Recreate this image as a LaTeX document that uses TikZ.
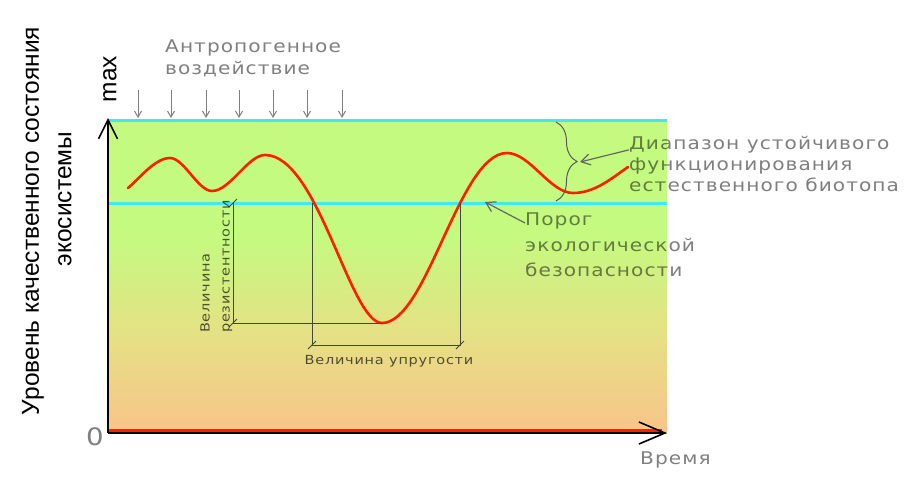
\documentclass[tikz,border=0pt]{standalone}
\usepackage{fontspec}
\setmainfont{Liberation Sans}
\newfontfamily\cad{DejaVu Sans}[FakeStretch=1.15,LetterSpace=6]
\usetikzlibrary{arrows.meta,decorations.pathreplacing}
\definecolor{bggreen}{RGB}{196,250,128}
\definecolor{bgmid}{RGB}{228,226,132}
\definecolor{bgpeach}{RGB}{248,196,138}
\definecolor{cyanline}{RGB}{64,232,240}
\definecolor{redcurve}{RGB}{255,30,0}
\definecolor{arrowgray}{RGB}{128,128,128}
\definecolor{dimgray}{RGB}{70,70,60}
\tikzset{
  cadtext/.style={font=\cad\fontsize{17.5}{20}\selectfont, text=black, text opacity=0.5,
    inner sep=0pt, text height=1ex, text depth=0pt},
  smallcad/.style={font=\cad\fontsize{12.6}{14}\selectfont, text=black, text opacity=0.65,
    inner sep=0pt, text height=1ex, text depth=0pt},
  axlabel/.style={font=\fontsize{24.5}{28}\selectfont, text=black, inner sep=0pt, rotate=90},
  axis/.style={line width=1.6pt, draw=black},
  level/.style={line width=3pt, draw=cyanline},
  impact/.style={draw=arrowgray, line width=1pt, -{Straight Barb[length=6pt,width=7pt]}},
  pointer/.style={draw=black!60, line width=1.2pt, -{Straight Barb[length=9pt,width=11pt]}},
  dimline/.style={draw=dimgray, line width=0.9pt},
  curve/.style={draw=redcurve, line width=2.6pt, line cap=round},
}
\begin{document}
\begin{tikzpicture}[x=1pt,y=-1pt]
\useasboundingbox (0,0) rectangle (921,483);
% background
\fill[bggreen] (108,120) rectangle (667,235);
\shade[top color=bggreen,bottom color=bgmid] (108,234.5) rectangle (667,330);
\shade[top color=bgmid,bottom color=bgpeach] (108,329.5) rectangle (667,433);
% level lines
\draw[level] (108,120) -- (667,120);
\draw[level] (108,203) -- (667,203);
% bottom red line
\draw[draw=redcurve, line width=3pt] (108,430) -- (662,430);
% axes
\coordinate (origin) at (108,433);
\coordinate (ytip) at (108,118);
\coordinate (xtip) at (667,433);
\draw[axis, -{Straight Barb[length=19pt,width=19pt]}] (origin) -- (ytip);
\draw[axis, -{Straight Barb[length=26pt,width=22pt]}] (origin) -- (xtip);
% curve
\draw[curve] (128,188) .. controls (140,178) and (155,158) .. (170,158)
  .. controls (184,158) and (198,191) .. (212,191)
  .. controls (230,191) and (248,155) .. (265,155)
  .. controls (318,155) and (350,323) .. (382,323)
  .. controls (427,323) and (459,153) .. (507,153)
  .. controls (530,153) and (550,193) .. (573,193)
  .. controls (595,193) and (612,178) .. (628,167);
% dimension lines
\coordinate (rtop) at (233,203);
\coordinate (rbot) at (233,323);
\coordinate (cmin) at (382,323);
\coordinate (cl) at (312,203);
\coordinate (cr) at (460,203);
\coordinate (el) at (312,345);
\coordinate (er) at (460,345);
\draw[dimline] (rtop) -- (rbot) -- (cmin);
\draw[dimline] (cl) -- (el) -- (er) -- (cr);
\foreach \p in {rtop,rbot,el,er}
  \draw[dimline] ([xshift=-4pt,yshift=-4pt]\p) -- ([xshift=4pt,yshift=4pt]\p);
\node[smallcad] (elast) at (389,362) {Величина упругости};
\node[smallcad, rotate=90, anchor=west] (res1) at (207,333) {Величина};
\node[smallcad, rotate=90, anchor=west] (res2) at (227,333) {резистентности};
% anthropogenic impact
\node[cadtext, anchor=west] (a1) at (165,50) {Антропогенное};
\node[cadtext, anchor=west] (a2) at (165,72) {воздействие};
\foreach \x in {138,171,206,239,273,307,342}
  \draw[impact] (\x,90) -- (\x,118);
% brace and range text
\draw[draw=black!65, line width=1pt, decorate, decoration={brace, amplitude=21pt}] (556,122) -- (556,201);
\coordinate (bracetip) at (580,162);
\node[cadtext, anchor=west] (d1) at (629,147) {Диапазон устойчивого};
\node[cadtext, anchor=west] (d2) at (629,168) {функционирования};
\node[cadtext, anchor=west] (d3) at (629,189) {естественного биотопа};
\draw[pointer] (d1.south west) -- (bracetip);
% threshold
\coordinate (thr) at (485,202);
\node[cadtext, anchor=west] (p1) at (525,223) {Порог};
\node[cadtext, anchor=west] (p2) at (525,249) {экологической};
\node[cadtext, anchor=west] (p3) at (525,274) {безопасности};
\draw[pointer] (p1.west) -- (thr);
% axis labels
\node[axlabel] (ylab1) at (33,221) {Уровень качественного состояния};
\node[axlabel] (ylab2) at (65,199) {экосистемы};
\node[axlabel] (maxlab) at (110,79) {max};
\node[cadtext, font=\cad\fontsize{24}{28}\selectfont] (zero) at (95,443) {0};
\node[cadtext, anchor=west] (time) at (640,462) {Время};
\end{tikzpicture}
\end{document}
